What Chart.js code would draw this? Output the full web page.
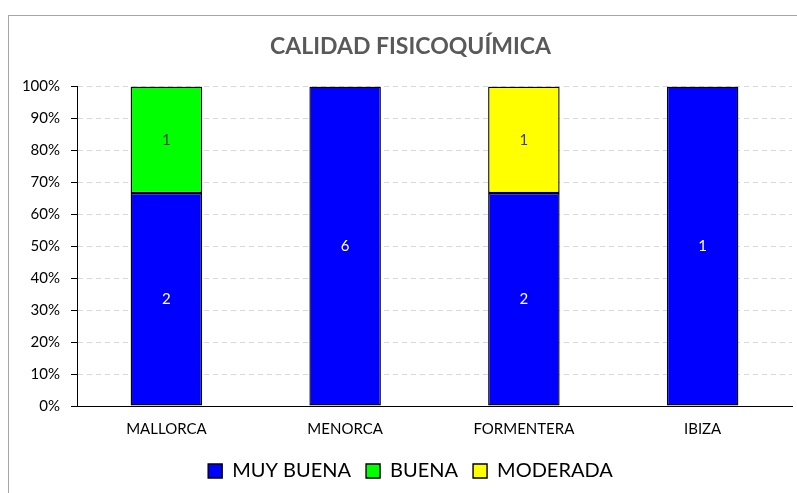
<!DOCTYPE html>
<html>
<head>
<meta charset="utf-8">
<script src="https://cdn.jsdelivr.net/npm/chart.js@4"></script>
<style>
  body { margin: 0; background: #fff; }
  #wrap { position: relative; width: 797px; height: 493px; overflow: hidden; }
  #frame { position: absolute; left: 8px; top: 15px; width: 900px; height: 600px;
           border-left: 1px solid #a6a6a6; border-top: 1px solid #a6a6a6; pointer-events: none; }
</style>
</head>
<body>
<div id="wrap">
  <!-- the chart box runs past the right edge of the window -->
  <canvas id="bar-chartcanvas" width="821" height="493"></canvas>
  <div id="frame"></div>
</div>
<script>
// islands and number of stations per class
var islas = ["MALLORCA", "MENORCA", "FORMENTERA", "IBIZA"];
var muyBuena = [2, 6, 2, 1];
var buena = [1, 0, 0, 0];
var moderada = [0, 0, 1, 0];
var yTicks = [0, 10, 20, 30, 40, 50, 60, 70, 80, 90, 100];

var totals = islas.map(function(x, i) { return muyBuena[i] + buena[i] + moderada[i]; });
function pct(arr) {
  return arr.map(function(v, i) { return v / totals[i] * 100; });
}

// writes the count in the middle of each segment
var countLabels = {
  id: "countLabels",
  afterDatasetsDraw: function(chart) {
    var ctx = chart.ctx;
    ctx.save();
    ctx.font = "15px Lato";
    ctx.textAlign = "center";
    ctx.textBaseline = "middle";
    chart.data.datasets.forEach(function(ds, di) {
      chart.getDatasetMeta(di).data.forEach(function(bar, i) {
        var n = ds.counts[i];
        if (!n) return;
        ctx.fillStyle = ds.labelColor;
        ctx.fillText(n, bar.x, (bar.y + bar.base) / 2);
      });
    });
    ctx.restore();
  }
};

var ctx = document.getElementById("bar-chartcanvas");

var data1 = {
  labels: islas,
  datasets: [
    { label: "MUY BUENA", data: pct(muyBuena), counts: muyBuena, labelColor: "#ffffff",
      backgroundColor: "#0000ff" },
    { label: "BUENA", data: pct(buena), counts: buena, labelColor: "#404040",
      backgroundColor: "#00ff00" },
    { label: "MODERADA", data: pct(moderada), counts: moderada, labelColor: "#404040",
      backgroundColor: "#ffff00" }
  ]
};
data1.datasets.forEach(function(ds) {
  ds.borderColor = "#000";
  ds.borderWidth = 1.4;
  ds.borderSkipped = false;
  ds.categoryPercentage = 1;
  ds.barPercentage = 0.4;
});

var options = {
  responsive: false,
  animation: false,
  layout: { padding: { left: 0, right: 0, top: 0, bottom: 2 } },
  plugins: {
    title: {
      display: true,
      text: "CALIDAD FISICOQUÍMICA",
      color: "#595959",
      font: { family: "Lato", size: 23, weight: "bold" },
      padding: { top: 33, bottom: 26 }
    },
    legend: {
      position: "bottom",
      labels: {
        color: "#000",
        font: { family: "Lato", size: 20 },
        boxWidth: 14,
        boxHeight: 14,
        padding: 15
      }
    },
    tooltip: { enabled: false }
  },
  scales: {
    x: {
      stacked: true,
      grid: { display: false },
      border: { color: "#000", width: 1 },
      ticks: { color: "#000", font: { family: "Lato", size: 15 }, padding: 6 },
      afterFit: function(s) { s.height = 40; }
    },
    y: {
      stacked: true,
      min: 0,
      max: 100,
      afterBuildTicks: function(s) { s.ticks = yTicks.map(function(v) { return { value: v }; }); },
      grid: { color: "#d9d9d9", tickColor: "#000", tickLength: 6, tickBorderDash: [] },
      border: { color: "#000", width: 1, dash: [5, 4] },
      ticks: {
        color: "#000",
        font: { family: "Lato", size: 15 },
        padding: 11,
        callback: function(v) { return v + "%"; }
      },
      afterFit: function(s) { s.width = 77; }
    },
    // empty right margin so the plot ends where the frame is cut
    spacer: {
      position: "right",
      grid: { display: false },
      border: { display: false },
      ticks: { display: false },
      afterFit: function(s) { s.width = 29; }
    }
  }
};

var chart = new Chart(ctx, {
  type: "bar",
  data: data1,
  options: options,
  plugins: [countLabels]
});
</script>
</body>
</html>
